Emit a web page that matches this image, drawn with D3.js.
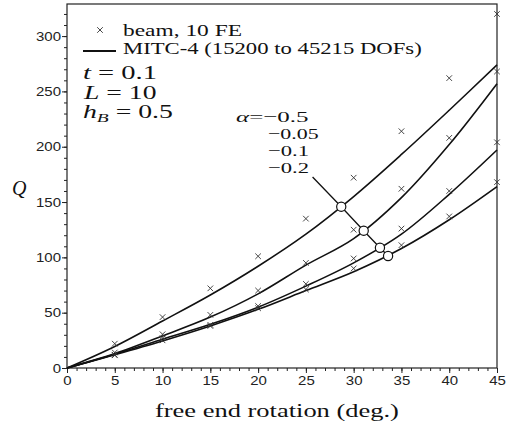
<!DOCTYPE html>
<html><head><meta charset="utf-8">
<script src="https://cdn.jsdelivr.net/npm/d3@7"></script>
<style>body{margin:0;background:#fff;} svg{display:block}</style>
</head><body>
<svg id="c" width="506" height="428"></svg>
<script>
// ---------- data ----------
const xTicks = [0,5,10,15,20,25,30,35,40,45];
const yTicks = [0,50,100,150,200,250,300];
const curveX = [0,5,10,15,20,25,30,35,40,45];
const mitcA05  = [0,19.5,42.5,66,92,121,155,193,233,274];   // alpha = -0.5
const mitcA005 = [0,13,29,46,67,93,117,154,202,257];        // alpha = -0.05
const mitcA01  = [0,12.5,26,39.5,55,74,95,121,157,197];     // alpha = -0.1
const mitcA02  = [0,12,24.5,38,53,70,87,108,134,164];       // alpha = -0.2
const beamX = [5,10,15,20,25,30,35,40,45];
const beamA05  = [22,46,72,101,135,172,214,262,320];
const beamA005 = [14,30.5,48,70,95,125,162,208,268];
const beamA01  = [12,27,39,56,76,99,126,160,204];
const beamA02  = [11.5,25,38,54,71,90,111,137,168];
const alphaLabels = ["−0.5","−0.05","−0.1","−0.2"];
const leaderX = [25.7,28.7,31.05,32.75,33.6];
const leaderY = [172.6,145.8,124.1,108.7,101.2];

// ---------- setup ----------
const svg = d3.select('#c');
const x = d3.scaleLinear().domain([0,45]).range([67,497]);
const y = d3.scaleLinear().domain([0,329]).range([368,4]);
const SERIF = "'Liberation Serif', 'Times New Roman', serif";
const SANS = "'Liberation Sans', Arial, sans-serif";

// minor ticks
svg.append('g').attr('transform',`translate(0,${y(0)})`)
  .call(d3.axisBottom(x).tickValues(d3.range(0,46,1)).tickSize(3).tickSizeOuter(0).tickFormat(''))
  .call(g=>g.select('.domain').remove());
svg.append('g').attr('transform',`translate(${x(0)},0)`)
  .call(d3.axisLeft(y).tickValues(d3.range(0,330,10)).tickSize(3).tickSizeOuter(0).tickFormat(''))
  .call(g=>g.select('.domain').remove());

// major axes
const xa = svg.append('g').attr('transform',`translate(0,${y(0)})`)
  .call(d3.axisBottom(x).tickValues(xTicks).tickSize(5).tickSizeOuter(0).tickPadding(3));
const ya = svg.append('g').attr('transform',`translate(${x(0)},0)`)
  .call(d3.axisLeft(y).tickValues(yTicks).tickSize(5).tickSizeOuter(0).tickPadding(1));
[xa,ya].forEach(a=>{
  a.selectAll('.domain').remove();
  a.selectAll('text').attr('font-family',SANS).attr('font-size',12.5).attr('fill','#222');
});
xa.selectAll('text').attr('transform','scale(1.2,1)');
ya.selectAll('text').attr('x',-6/1.2).attr('transform','scale(1.2,1)');
svg.selectAll('.tick line').attr('stroke','#222').attr('stroke-width',1);

// frame
svg.append('rect').attr('x',x(0)).attr('y',y(329)).attr('width',x(45)-x(0)).attr('height',y(0)-y(329))
  .attr('fill','none').attr('stroke','#222').attr('stroke-width',1.2);

// curves
const line = d3.line().x(d=>x(d[0])).y(d=>y(d[1])).curve(d3.curveCatmullRom.alpha(0.5));
[mitcA05,mitcA005,mitcA01,mitcA02].forEach(s=>{
  svg.append('path').datum(curveX.map((v,i)=>[v,s[i]])).attr('d',line)
    .attr('fill','none').attr('stroke','#111').attr('stroke-width',1.6);
});

// beam crosses
function cross(g,cx,cy,r){
  g.append('path').attr('d',`M${cx-r},${cy-r}L${cx+r},${cy+r}M${cx-r},${cy+r}L${cx+r},${cy-r}`)
    .attr('stroke','#333').attr('stroke-width',0.9).attr('fill','none');
}
const cg = svg.append('g');
[beamA05,beamA005,beamA01,beamA02].forEach(s=>{
  beamX.forEach((v,i)=>cross(cg,x(v),y(s[i]),2.8));
});

// leader line + circles
svg.append('path').datum(leaderX.map((v,i)=>[v,leaderY[i]]))
  .attr('d',d3.line().x(d=>x(d[0])).y(d=>y(d[1])))
  .attr('fill','none').attr('stroke','#111').attr('stroke-width',1.3);
svg.selectAll('circle.m').data(leaderX.slice(1)).enter().append('circle')
  .attr('cx',d=>x(d)).attr('cy',(d,i)=>y(leaderY[i+1])).attr('r',4.6)
  .attr('fill','#fff').attr('stroke','#111').attr('stroke-width',1.2);

// ---------- text helper ----------
function label(parts, x0, base, width, size, sy){
  const t = svg.append('text').attr('font-family',SERIF).attr('font-size',size).attr('fill','#111');
  parts.forEach(p=>{
    const ts = t.append('tspan').text(p.t);
    if(p.i) ts.attr('font-style','italic');
    if(p.s) ts.attr('font-size',p.s);
    if(p.dy) ts.attr('dy',p.dy);
  });
  const w = t.node().getBBox().width;
  const sx = width ? width/w : 1;
  t.attr('transform',`translate(${x0},${base}) scale(${sx},${sy||1})`);
  return t;
}

// legend
cross(svg,100,30,2.8);
svg.append('line').attr('x1',83).attr('x2',116).attr('y1',51).attr('y2',51).attr('stroke','#111').attr('stroke-width',1.8);
label([{t:'beam, 10 FE'}],123,35.5,119,16.5);
label([{t:'MITC-4 (15200 to 45215 DOFs)'}],123,53.5,299,16.5);

// parameters
label([{t:'t',i:1},{t:' = 0.1'}],83,79,74,18.5);
label([{t:'L',i:1},{t:' = 10'}],84,99,74,18.5);
label([{t:'h',i:1},{t:'B',i:1,s:13,dy:4},{t:' = 0.5',dy:-4}],83,117.5,90,18.5);

// alpha labels
label([{t:'α',i:1},{t:'='+alphaLabels[0]}],236,121.5,73,15.5);
label([{t:alphaLabels[1]}],268,139,51,15.5);
label([{t:alphaLabels[2]}],268,156,41,15.5);
label([{t:alphaLabels[3]}],268,173,41,15.5);

// axis titles
label([{t:'free end rotation (deg.)'}],155,417,244,18);
label([{t:'Q',i:1}],12,195,15,20);
</script>
</body></html>
